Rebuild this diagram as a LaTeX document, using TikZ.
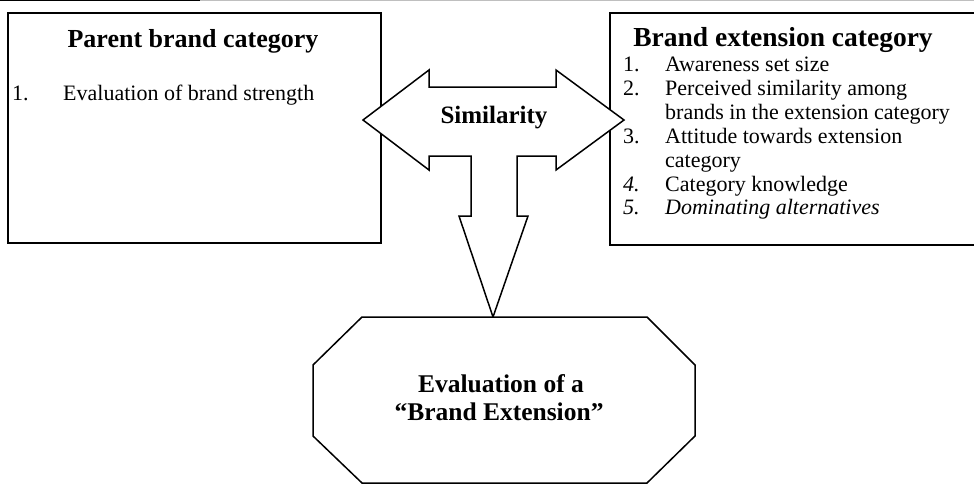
\documentclass[tikz,border=0pt]{standalone}
\usepackage{fontspec}
\setmainfont{Liberation Serif}
\begin{document}
\begin{tikzpicture}[x=1pt,y=-1pt,
  boxline/.style={draw=black,line width=1.8pt},
  shapeline/.style={draw=black,line width=1.5pt,fill=white,line join=miter},
  head/.style={font=\fontsize{26}{28}\selectfont\bfseries,inner sep=0pt,anchor=base},
  body/.style={font=\fontsize{22}{24}\selectfont,inner sep=0pt,anchor=base west},
  bodyit/.style={font=\fontsize{22}{24}\selectfont\itshape,inner sep=0pt,anchor=base west}]
\useasboundingbox (0,0) rectangle (974,485);
\clip (0,0) rectangle (974,485);
% scan edge at top
\draw[black!25,line width=1pt] (0,0.8) -- (974,0.8);
\draw[black,line width=1.2pt] (0,0.8) -- (200,0.8);
% boxes
\node[boxline,minimum width=373pt,minimum height=230pt,inner sep=0pt,anchor=north west] (parent) at (7,12) {};
\node[boxline,minimum width=380pt,minimum height=232pt,inner sep=0pt,anchor=north west] (ext) at (609,12) {};
% similarity arrow
\draw[shapeline] (363,120) -- (429,70) -- (429,87) -- (556,87) -- (556,70) -- (624,120)
  -- (556,170) -- (556,156) -- (517,156) -- (517,216) -- (528,216) -- (493,317)
  -- (459,216) -- (471,216) -- (471,156) -- (429,156) -- (429,170) -- cycle;
% octagon
\draw[shapeline] (362,317) -- (647,317) -- (695,365) -- (695,436) -- (647,483)
  -- (362,483) -- (313,436) -- (313,365) -- cycle;
% texts
\node[head] (ph) at (193,47) {Parent brand category};
\node[body] (p1n) at (12,100) {1.};
\node[body] (p1t) at (63,100) {Evaluation of brand strength};
\node[head,font=\fontsize{27.5}{28}\selectfont\bfseries] (eh) at (783,46) {Brand extension category};
\node[body] (e1n) at (623,71) {1.};
\node[body] (e1t) at (665,71) {Awareness set size};
\node[body] (e2n) at (623,95) {2.};
\node[body] (e2t) at (665,95) {Perceived similarity among};
\node[body] (e2u) at (665,119) {brands in the extension category};
\node[body] (e3n) at (623,143) {3.};
\node[body] (e3t) at (665,143) {Attitude towards extension};
\node[body] (e3u) at (665,167) {category};
\node[bodyit] (e4n) at (623,191) {4.};
\node[body] (e4t) at (665,191) {Category knowledge};
\node[bodyit] (e5n) at (623,214) {5.};
\node[bodyit] (e5t) at (665,214) {Dominating alternatives};
\node[head,font=\fontsize{25}{28}\selectfont\bfseries] (sim) at (494,123) {Similarity};
\node[head,font=\fontsize{25.5}{28}\selectfont\bfseries] (ev1) at (501,392) {Evaluation of a};
\node[head,font=\fontsize{25.5}{28}\selectfont\bfseries] (ev2) at (499,420) {``Brand Extension''};
\end{tikzpicture}
\end{document}
